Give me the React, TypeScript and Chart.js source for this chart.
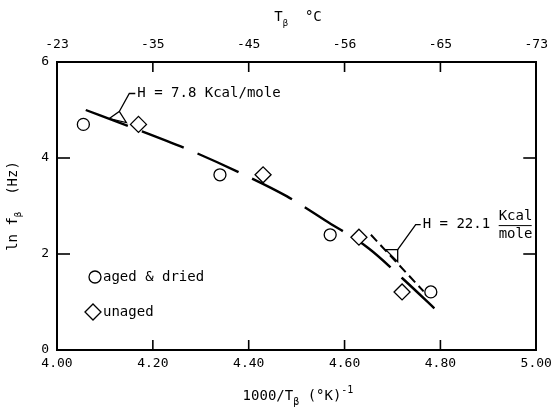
import React, { useEffect, useRef } from "react";
import { Chart, registerables } from "chart.js";
Chart.register(...registerables);

// ---- data ----
const xTickValues = [4.0, 4.2, 4.4, 4.6, 4.8, 5.0];
const topTickLabels = ["-23", "-35", "-45", "-56", "-65", "-73"];
const yTickValues = [0, 2, 4, 6];

const agedX = [4.055, 4.34, 4.57, 4.78];
const agedY = [4.7, 3.65, 2.4, 1.21];
const unagedX = [4.17, 4.43, 4.63, 4.72];
const unagedY = [4.7, 3.65, 2.35, 1.21];

const curveX = [4.06, 4.15, 4.28, 4.38, 4.48, 4.56, 4.65, 4.72, 4.8];
const curveY = [5.0, 4.66, 4.15, 3.7, 3.2, 2.7, 2.12, 1.5, 0.75];

const tangentX = [4.655, 4.765];
const tangentY = [2.4, 1.22];

const FONT = "'DejaVu Sans Mono', 'Liberation Mono', monospace";
const font = (s: number) => `${s}px ${FONT}`;

const zip = (xs: number[], ys: number[]) => xs.map((x, i) => ({ x, y: ys[i] }));

type Part = { t: string; size: number; dy: number };

function drawParts(ctx: CanvasRenderingContext2D, parts: Part[], x: number, y: number, align: "left" | "center") {
  ctx.textBaseline = "alphabetic";
  ctx.textAlign = "left";
  let total = 0;
  const widths = parts.map((p) => {
    ctx.font = font(p.size);
    const w = ctx.measureText(p.t).width;
    total += w;
    return w;
  });
  let cx = align === "center" ? x - total / 2 : x;
  parts.forEach((p, i) => {
    ctx.font = font(p.size);
    ctx.fillText(p.t, cx, y + p.dy);
    cx += widths[i];
  });
}

export default function App() {
  const ref = useRef<HTMLCanvasElement>(null);

  useEffect(() => {
    const canvas = ref.current!;

    const overlay = {
      id: "overlay",
      afterDraw(chart: any) {
        const ctx: CanvasRenderingContext2D = chart.ctx;
        const xs = chart.scales.x;
        const ys = chart.scales.y;
        const { left, right, top, bottom } = chart.chartArea;
        const line = (x1: number, y1: number, x2: number, y2: number) => {
          ctx.beginPath();
          ctx.moveTo(x1, y1);
          ctx.lineTo(x2, y2);
          ctx.stroke();
        };
        ctx.save();
        ctx.strokeStyle = "#000";
        ctx.fillStyle = "#000";
        ctx.lineWidth = 1.6;
        // inward ticks
        xTickValues.slice(1, -1).forEach((v) => {
          const px = xs.getPixelForValue(v);
          line(px, bottom, px, bottom - 10);
          line(px, top, px, top + 10);
        });
        yTickValues.slice(1, -1).forEach((v) => {
          const py = ys.getPixelForValue(v);
          line(left, py, left + 13, py);
          line(right, py, right - 13, py);
        });

        // legend
        ctx.lineWidth = 1.3;
        ctx.beginPath();
        ctx.arc(95, 277, 6, 0, Math.PI * 2);
        ctx.stroke();
        ctx.beginPath();
        ctx.moveTo(85, 312);
        ctx.lineTo(93, 304);
        ctx.lineTo(101, 312);
        ctx.lineTo(93, 320);
        ctx.closePath();
        ctx.stroke();
        ctx.font = font(14);
        ctx.textBaseline = "middle";
        ctx.textAlign = "left";
        ctx.fillText("aged & dried", 103, 277);
        ctx.fillText("unaged", 103, 312);

        // annotation H = 7.8
        ctx.lineWidth = 1.3;
        const a1x = xs.getPixelForValue(4.13);
        const a1y = ys.getPixelForValue(4.76);
        ctx.beginPath();
        ctx.moveTo(a1x - 10, a1y - 3);
        ctx.lineTo(a1x, a1y - 10);
        ctx.lineTo(a1x + 7, a1y + 1);
        ctx.closePath();
        ctx.stroke();
        ctx.beginPath();
        ctx.moveTo(a1x, a1y - 10);
        ctx.lineTo(a1x + 10, a1y - 28);
        ctx.lineTo(a1x + 16, a1y - 28);
        ctx.stroke();
        ctx.font = font(14);
        ctx.textBaseline = "middle";
        ctx.fillText("H = 7.8 Kcal/mole", a1x + 18, a1y - 28);

        // annotation H = 22.1
        const a2x = xs.getPixelForValue(4.69);
        const a2y = ys.getPixelForValue(2.05);
        ctx.beginPath();
        ctx.moveTo(a2x - 2, a2y - 2);
        ctx.lineTo(a2x + 10, a2y - 2);
        ctx.lineTo(a2x + 10, a2y + 10);
        ctx.closePath();
        ctx.stroke();
        ctx.beginPath();
        ctx.moveTo(a2x + 10, a2y - 2);
        ctx.lineTo(a2x + 28, a2y - 27);
        ctx.lineTo(a2x + 33, a2y - 27);
        ctx.stroke();
        ctx.fillText("H = 22.1", a2x + 35, a2y - 27);
        const fx = a2x + 111;
        ctx.fillText("Kcal", fx, a2y - 35);
        ctx.fillText("mole", fx, a2y - 17);
        ctx.lineWidth = 1;
        line(fx, a2y - 26, fx + 33, a2y - 26);

        // titles
        ctx.textBaseline = "alphabetic";
        drawParts(
          ctx,
          [
            { t: "T", size: 14, dy: 0 },
            { t: "β", size: 9, dy: 5 },
            { t: "  °C", size: 14, dy: 0 },
          ],
          298,
          21,
          "center"
        );
        drawParts(
          ctx,
          [
            { t: "1000/T", size: 14, dy: 0 },
            { t: "β", size: 10, dy: 5 },
            { t: " (°K)", size: 14, dy: 0 },
            { t: "-1", size: 10, dy: -7 },
          ],
          298,
          400,
          "center"
        );
        ctx.save();
        ctx.translate(17, 206);
        ctx.rotate(-Math.PI / 2);
        drawParts(
          ctx,
          [
            { t: "ln f", size: 14, dy: 0 },
            { t: "β", size: 9, dy: 4 },
            { t: "  (Hz)", size: 14, dy: 0 },
          ],
          0,
          0,
          "center"
        );
        ctx.restore();
        ctx.restore();
      },
    };

    const border = { display: true, color: "#000", width: 2 };
    const setTicks = (vals: number[]) => (scale: any) => {
      scale.ticks = vals.map((v) => ({ value: v }));
    };

    const chart = new Chart(canvas, {
      type: "scatter",
      data: {
        datasets: [
          {
            label: "aged & dried",
            data: zip(agedX, agedY),
            pointStyle: "circle",
            pointRadius: 6,
            backgroundColor: "#fff",
            borderColor: "#000",
            borderWidth: 1.3,
          },
          {
            label: "unaged",
            data: zip(unagedX, unagedY),
            pointStyle: "rectRot",
            pointRadius: 8,
            backgroundColor: "#fff",
            borderColor: "#000",
            borderWidth: 1.3,
          },
          {
            label: "fit",
            data: zip(curveX, curveY),
            showLine: true,
            pointRadius: 0,
            borderColor: "#000",
            borderWidth: 2.4,
            borderDash: [45, 15],
            tension: 0.4,
            cubicInterpolationMode: "monotone",
          },
          {
            label: "tangent",
            data: zip(tangentX, tangentY),
            showLine: true,
            pointRadius: 0,
            borderColor: "#000",
            borderWidth: 2,
            borderDash: [9, 5],
          },
        ],
      },
      options: {
        animation: false,
        responsive: false,
        layout: { padding: 0 },
        plugins: { legend: { display: false }, tooltip: { enabled: false } },
        scales: {
          x: {
            type: "linear",
            position: "bottom",
            min: 4,
            max: 5,
            afterBuildTicks: setTicks(xTickValues),
            afterFit: (s: any) => {
              s.height = 64;
            },
            grid: { display: false, drawTicks: false },
            border,
            ticks: {
              color: "#000",
              font: { family: FONT, size: 13 },
              padding: 6,
              maxRotation: 0,
              autoSkip: false,
              callback: (v: any) => Number(v).toFixed(2),
            },
          },
          x2: {
            type: "linear",
            position: "top",
            min: 4,
            max: 5,
            afterBuildTicks: setTicks(xTickValues),
            afterFit: (s: any) => {
              s.height = 62;
            },
            grid: { display: false, drawTicks: false },
            border,
            ticks: {
              color: "#000",
              font: { family: FONT, size: 13 },
              padding: 10,
              maxRotation: 0,
              autoSkip: false,
              callback: (_v: any, i: number) => topTickLabels[i],
            },
          },
          y: {
            type: "linear",
            position: "left",
            min: 0,
            max: 6,
            afterBuildTicks: setTicks(yTickValues),
            afterFit: (s: any) => {
              s.width = 57;
            },
            grid: { display: false, drawTicks: false },
            border,
            ticks: {
              color: "#000",
              font: { family: FONT, size: 13 },
              padding: 8,
              callback: (v: any) => String(v),
            },
          },
          y2: {
            type: "linear",
            position: "right",
            min: 0,
            max: 6,
            afterFit: (s: any) => {
              s.width = 16;
            },
            grid: { display: false, drawTicks: false },
            border,
            ticks: { display: false },
          },
        },
      },
      plugins: [overlay],
    } as any);

    return () => chart.destroy();
  }, []);

  return (
    <div style={{ position: "fixed", left: 0, top: 0, width: 558, height: 414, background: "#fff" }}>
      <canvas ref={ref} width={558} height={414} style={{ display: "block" }} />
    </div>
  );
}
